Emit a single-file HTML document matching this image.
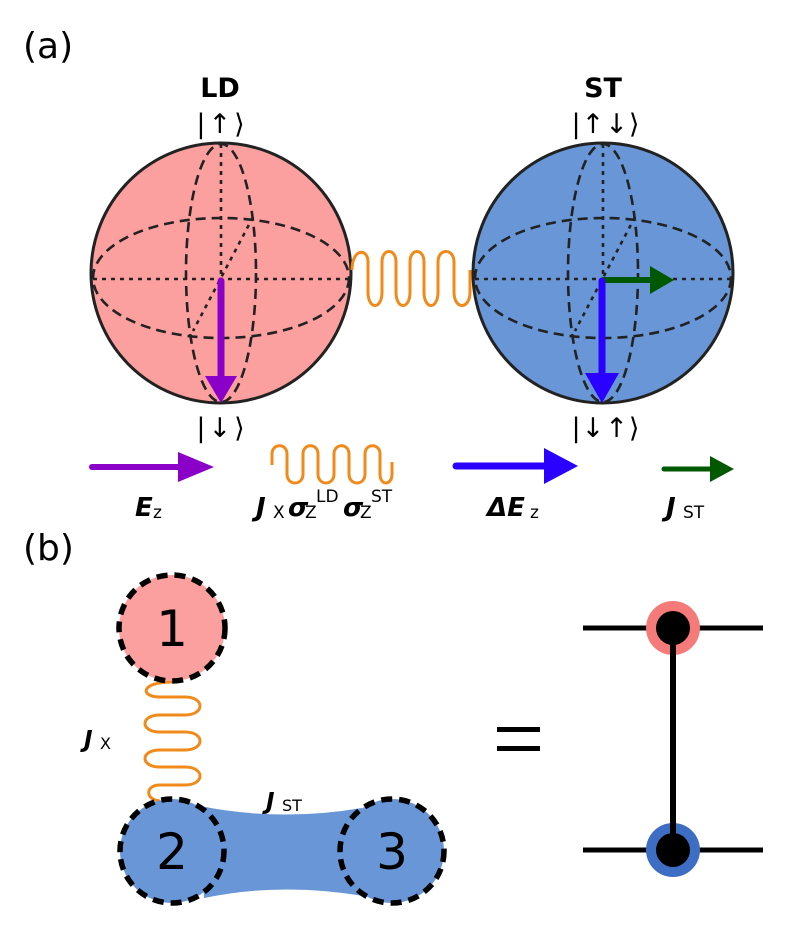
<!DOCTYPE html>
<html><head><meta charset="utf-8"><style>
html,body{margin:0;padding:0;background:#fff;}
svg{display:block;}
text{font-family:"DejaVu Sans","Liberation Sans",sans-serif;}
</style></head><body>
<svg width="789" height="932" viewBox="0 0 789 932" xmlns="http://www.w3.org/2000/svg">
<defs>
<g id="grid" fill="none" stroke="#222" stroke-width="2.6">
  <ellipse cx="0" cy="5" rx="128" ry="60" stroke-dasharray="10,6"/>
  <ellipse cx="0" cy="0" rx="35" ry="129" stroke-dasharray="10,6"/>
  <line x1="-128" y1="6" x2="128" y2="6" stroke-dasharray="4,5"/>
  <line x1="0" y1="-129" x2="0" y2="6" stroke-dasharray="4,5"/>
  <line x1="32" y1="-56" x2="-28" y2="58" stroke-dasharray="4,5"/>
</g>
</defs>
<text x="23" y="58" font-size="36">(a)</text>
<text x="23" y="560" font-size="36">(b)</text>

<!-- LD sphere -->
<circle cx="221" cy="273" r="130" fill="#fc9f9f" stroke="#222" stroke-width="3"/>
<use href="#grid" x="221" y="273"/>
<line x1="221" y1="281" x2="221" y2="378" stroke="#8a00c8" stroke-width="7" stroke-linecap="round"/>
<polygon points="205,376 237,376 221,403" fill="#8a00c8"/>
<text x="220" y="97" font-size="27" font-weight="bold" text-anchor="middle">LD</text>
<text x="222" y="133" font-size="27" text-anchor="middle" letter-spacing="3">|↑⟩</text>
<text x="222" y="437" font-size="27" text-anchor="middle" letter-spacing="3">|↓⟩</text>

<!-- ST sphere -->
<circle cx="603" cy="273" r="130" fill="#6896d6" stroke="#222" stroke-width="3"/>
<use href="#grid" x="603" y="273"/>
<line x1="603" y1="280" x2="652" y2="280" stroke="#005800" stroke-width="6" stroke-linecap="round"/>
<polygon points="650,266 674,280 650,294" fill="#005800"/>
<line x1="602" y1="281" x2="602" y2="375" stroke="#2a00ff" stroke-width="7" stroke-linecap="round"/>
<polygon points="585,373 619,373 602,403" fill="#2a00ff"/>
<text x="603" y="97" font-size="27" font-weight="bold" text-anchor="middle">ST</text>
<text x="606" y="133" font-size="27" text-anchor="middle" letter-spacing="1">|↑↓⟩</text>
<text x="606" y="437" font-size="27" text-anchor="middle" letter-spacing="1">|↓↑⟩</text>

<!-- coupling spring -->
<path d="M352,270 C352,248 368,248 368,262 L368,292 C368,310 382,310 382,292 L382,262 C382,248 396,248 396,262 L396,292 C396,310 410,310 410,292 L410,262 C410,248 424,248 424,262 L424,292 C424,310 438,310 438,292 L438,262 C438,248 454,248 454,262 L454,292 C454,310 470,310 470,292 L470,270" fill="none" stroke="#f08a1a" stroke-width="3"/>

<!-- legend -->
<line x1="92" y1="467" x2="180" y2="467" stroke="#8a00c8" stroke-width="6" stroke-linecap="round"/>
<polygon points="178,452 214,467 178,482" fill="#8a00c8"/>
<text x="135" y="516" font-size="26" font-weight="bold" font-style="italic">E</text>
<text x="153" y="518" font-size="17">z</text>

<path d="M272,465 L272,454 C272,443 287,443 287,454 L287,474 C287,486 303,486 303,474 L303,454 C303,443 318,443 318,454 L318,474 C318,486 334,486 334,474 L334,454 C334,443 349,443 349,454 L349,474 C349,486 365,486 365,474 L365,454 C365,443 380,443 380,454 L380,474 C380,486 392,486 392,474 L392,462" fill="none" stroke="#f08a1a" stroke-width="3"/>
<text x="256" y="516" font-size="26" font-weight="bold" font-style="italic">J</text>
<text x="273" y="518" font-size="17">X</text>
<text x="288" y="516" font-size="26" font-weight="bold" font-style="italic">σ</text>
<text x="305" y="518" font-size="17">Z</text>
<text x="316" y="502" font-size="17">LD</text>
<text x="343" y="516" font-size="26" font-weight="bold" font-style="italic">σ</text>
<text x="360" y="518" font-size="17">Z</text>
<text x="371" y="502" font-size="17">ST</text>

<line x1="456" y1="466" x2="545" y2="466" stroke="#2a00ff" stroke-width="7" stroke-linecap="round"/>
<polygon points="544,448 578,466 544,484" fill="#2a00ff"/>
<text x="487" y="516" font-size="26" font-weight="bold" font-style="italic">ΔE</text>
<text x="530" y="518" font-size="17">z</text>

<line x1="664" y1="469" x2="712" y2="469" stroke="#005800" stroke-width="5" stroke-linecap="round"/>
<polygon points="710,456 734,469 710,482" fill="#005800"/>
<text x="666" y="516" font-size="26" font-weight="bold" font-style="italic">J</text>
<text x="683" y="518" font-size="17">ST</text>

<!-- part b -->
<path d="M200,806 Q280,822 362,808 L364,896 Q280,882 204,898 Z" fill="#6896d6"/>
<path d="M172,682 C140,682 140,697 160,697 L185,697 C205,697 205,715 185,715 L160,715 C140,715 140,732 160,732 L185,732 C205,732 205,750 185,750 L160,750 C140,750 140,767 160,767 L185,767 C205,767 205,785 185,785 L160,785 C145,785 145,800 160,801" fill="none" stroke="#f08a1a" stroke-width="3"/>
<circle cx="172" cy="628" r="53" fill="#fc9f9f" stroke="#000" stroke-width="5.5" stroke-dasharray="11,7"/>
<circle cx="172" cy="851" r="52" fill="#6896d6" stroke="#000" stroke-width="5.5" stroke-dasharray="11,7"/>
<circle cx="392" cy="851" r="52" fill="#6896d6" stroke="#000" stroke-width="5.5" stroke-dasharray="11,7"/>
<text x="172" y="646" font-size="50" text-anchor="middle">1</text>
<text x="172" y="869" font-size="50" text-anchor="middle">2</text>
<text x="392" y="869" font-size="50" text-anchor="middle">3</text>
<text x="84" y="747" font-size="23" font-weight="bold" font-style="italic">J</text>
<text x="100" y="749" font-size="16">X</text>
<text x="266" y="809" font-size="23" font-weight="bold" font-style="italic">J</text>
<text x="282" y="811" font-size="16">ST</text>

<rect x="497" y="727" width="43" height="5" fill="#000"/>
<rect x="497" y="746" width="43" height="5" fill="#000"/>

<line x1="583" y1="628" x2="763" y2="628" stroke="#000" stroke-width="5"/>
<line x1="583" y1="850" x2="763" y2="850" stroke="#000" stroke-width="5"/>
<circle cx="673" cy="628" r="27" fill="#f57a7a"/>
<circle cx="673" cy="850" r="27" fill="#3d6ec4"/>
<line x1="673" y1="628" x2="673" y2="850" stroke="#000" stroke-width="6"/>
<circle cx="673" cy="628" r="17" fill="#000"/>
<circle cx="673" cy="850" r="17" fill="#000"/>
</svg>
</body></html>
